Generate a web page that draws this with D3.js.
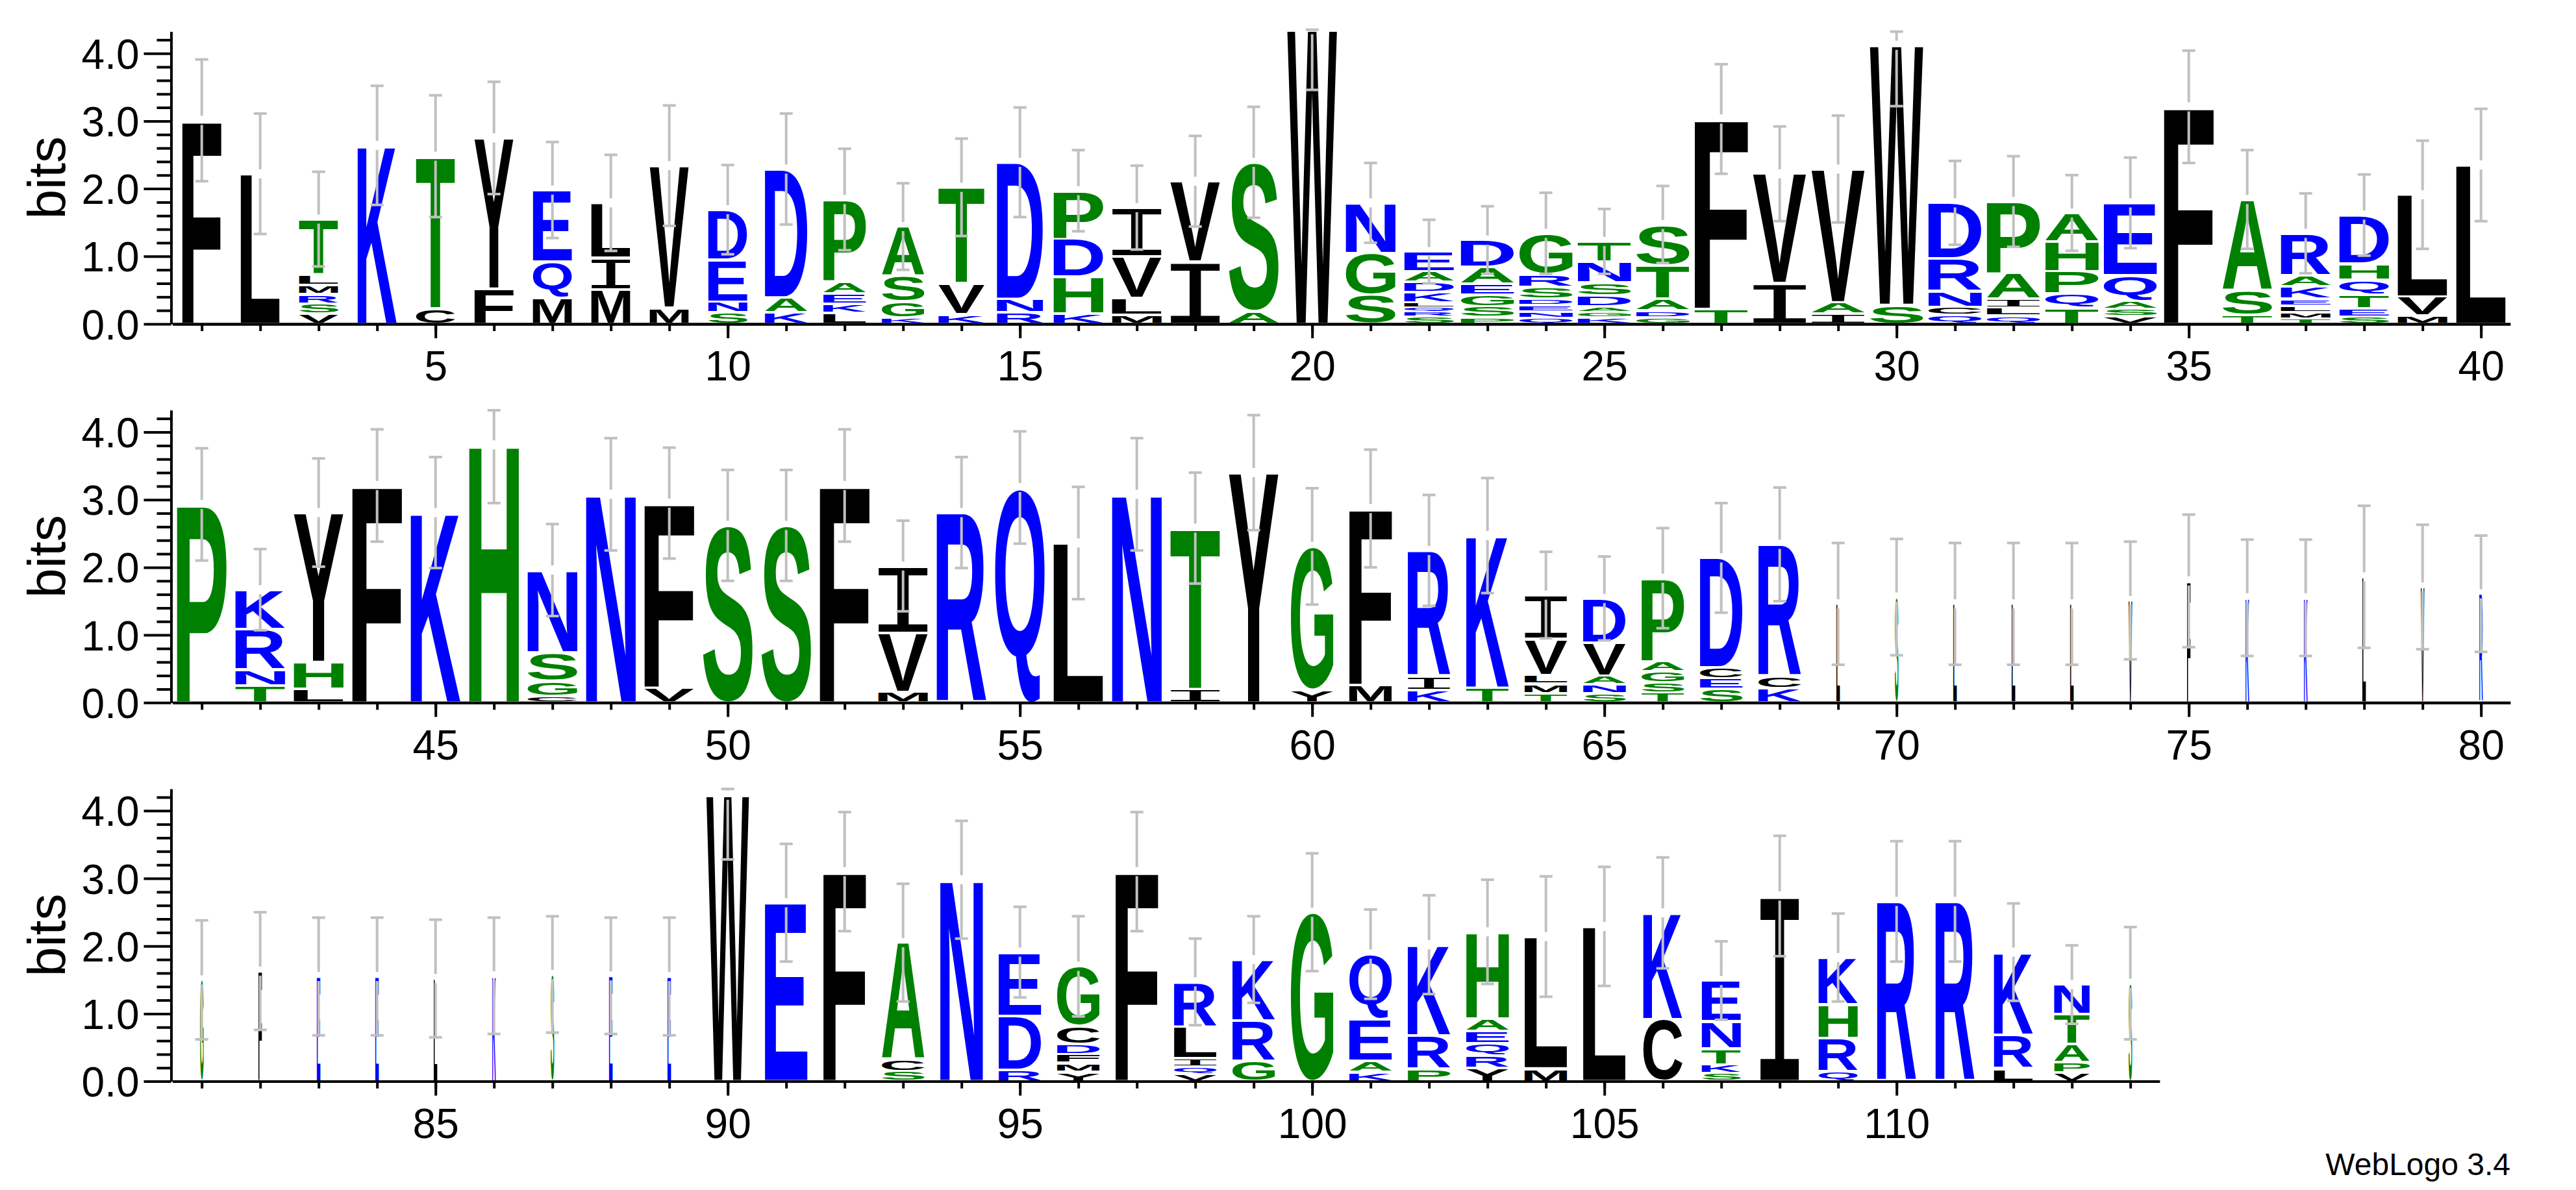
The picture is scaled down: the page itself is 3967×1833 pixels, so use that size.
<!DOCTYPE html>
<html><head><meta charset="utf-8">
<script src="https://cdn.jsdelivr.net/npm/d3@7"></script>
<style>body{margin:0;background:#fff} svg{display:block}</style>
</head><body>
<svg id="chart" width="3967" height="1833"></svg>
<script>
// ---------------- DATA ----------------
// residues of each stack, listed bottom -> top
const residues = [
 "F","L","VSRMLT","K","CT","FY","MQE","MIL","MV","SNED",
 "KAD","LKEAP","KGSA","KVT","RND","KHDP","MLVI","IV","AS","W",
 "SGN","SRQLKDAE","PSGEAD","QNEDSRG","KGADSNT","GDATS","TF","IV","IAV","SW",
 "QCNRD","QLIAP","TQPHA","VSAQE","F","TSA","TMLEKAR","SETQHD","MVL","L",
 "P","TNRK","LHY","F","K","H","CGSN","N","VF","S",
 "S","F","MVI","R","Q","L","N","IT","Y","YG",
 "MF","KIR","TK","TMLVI","SNAVD","TSGAP","SECD","KCR","L","S",
 "L","L","L","V","F","K","K","L","V","R",
 "G","F","E","E","L","K","S","E","E","W",
 "E","F","SCA","N","RDE","YMFDCG","F","VQILR","GRK","G",
 "KAEQ","PRK","YRQEAH","ML","L","CK","SKTNE","I","QRHK","R",
 "R","LRK","VPATN","S"
];
// information (bits) of each residue, same order as residues
const bits = [
 [3.01],[2.22],[0.15,0.15,0.14,0.14,0.15,0.82],[2.64],[0.23,2.25],[0.52,2.23],[0.38,0.54,1.06],[0.51,0.47,0.81],[0.24,2.10],[0.17,0.16,0.62,0.74],
 [0.17,0.22,1.90],[0.16,0.14,0.15,0.17,1.22],[0.09,0.24,0.38,0.73],[0.14,0.46,1.42],[0.17,0.20,2.02],[0.15,0.55,0.56,0.71],[0.13,0.25,0.62,0.72],[0.92,1.19],[0.19,2.20],[4.35],
 [0.43,0.62,0.74],[0.11,0.07,0.07,0.07,0.15,0.15,0.16,0.29],[0.10,0.16,0.17,0.16,0.25,0.40],[0.09,0.10,0.09,0.09,0.18,0.19,0.60],[0.10,0.08,0.08,0.16,0.19,0.31,0.30],[0.10,0.10,0.17,0.50,0.60],[0.22,2.81],[0.60,1.62],[0.15,0.17,1.97],[0.28,3.84],
 [0.13,0.12,0.24,0.48,0.82],[0.12,0.12,0.13,0.38,1.06],[0.24,0.21,0.33,0.44,0.42],[0.11,0.11,0.12,0.38,1.07],[3.21],[0.13,0.37,1.34],[0.08,0.10,0.09,0.10,0.19,0.16,0.62],[0.11,0.12,0.20,0.22,0.24,0.72],[0.12,0.28,1.51],[2.35],
 [2.93],[0.25,0.24,0.60,0.58],[0.20,0.40,2.21],[3.21],[2.81],[3.81],[0.10,0.22,0.42,1.22],[3.08],[0.22,2.73],[2.62],
 [2.62],[3.21],[0.16,0.87,0.99],[2.81],[3.18],[2.36],[3.08],[0.20,2.38],[3.40],[0.19,2.12],
 [0.26,2.61],[0.19,0.20,1.86],[0.22,2.25],[0.14,0.14,0.13,0.53,0.65],[0.14,0.13,0.13,0.49,0.65],[0.15,0.15,0.16,0.15,1.23],[0.20,0.16,0.16,1.62],[0.21,0.18,1.95],[1.46],[1.56],
 [1.46],[1.46],[1.46],[1.51],[1.80],[1.55],[1.55],[1.86],[1.71],[1.61],
 [1.50],[1.63],[1.55],[1.55],[1.52],[1.56],[1.58],[1.56],[1.55],[4.23],
 [2.64],[3.10],[0.15,0.17,1.73],[2.98],[0.17,0.80,0.94],[0.14,0.13,0.13,0.15,0.27,0.88],[3.10],[0.11,0.11,0.12,0.47,0.66],[0.30,0.60,0.90],[2.50],
 [0.14,0.16,0.62,0.96],[0.18,0.50,1.34],[0.20,0.18,0.18,0.18,0.19,1.28],[0.19,1.95],[2.29],[0.92,1.57],[0.12,0.13,0.24,0.40,0.60],[2.74],[0.15,0.49,0.50,0.69],[2.66],
 [2.66],[0.19,0.50,1.22],[0.13,0.15,0.27,0.44,0.44],[1.45]
];
// half-length of the error bar of each stack (bits)
const errorBars = [
 0.90,0.89,0.70,0.88,0.90,0.83,0.71,0.71,0.89,0.66,
 0.82,0.75,0.64,0.72,0.81,0.60,0.62,0.67,0.82,0.89,
 0.59,0.47,0.50,0.60,0.48,0.57,0.81,0.70,0.79,0.90,
 0.62,0.67,0.56,0.67,0.83,0.73,0.59,0.60,0.80,0.83,
 0.83,0.60,0.80,0.83,0.82,0.86,0.68,0.83,0.82,0.82,
 0.82,0.83,0.67,0.82,0.83,0.83,0.83,0.82,0.85,0.86,
 0.87,0.82,0.85,0.64,0.62,0.74,0.81,0.84,0.90,0.86,
 0.90,0.90,0.90,0.87,0.98,0.86,0.86,1.05,0.92,0.86,
 0.88,0.87,0.87,0.87,0.87,0.86,0.86,0.86,0.87,0.95,
 0.87,0.88,0.87,0.87,0.67,0.74,0.88,0.64,0.64,0.87,
 0.66,0.73,0.77,0.89,0.88,0.82,0.58,0.89,0.65,0.89,
 0.89,0.72,0.58,0.83
];
// number of non-gap sequences in each column (stack width is scaled by it)
const seqCounts = [
 11,11,11,11,11,11,11,11,11,11,
 12,12,12,13,13,14,14,14,14,14,
 14,14,15,15,15,15,15,15,15,15,
 15,15,15,15,14,14,14,14,14,14,
 14,14,14,14,14,14,14,14,14,14,
 14,14,14,14,14,14,14,14,14,12,
 12,12,12,12,12,12,12,12,1,1,
 1,1,1,1,1,1,1,1,1,1,
 1,1,1,1,1,1,1,1,1,12,
 12,12,12,12,12,12,12,12,12,12,
 12,12,12,12,12,11,11,11,11,11,
 11,11,10,1
];
const totalSeqs = 15;
const stacksPerLine = 40;
const yTickValues = [0, 1, 2, 3, 4];
const yMinorTicks = [0,0.2,0.4,0.6,0.8,1,1.2,1.4,1.6,1.8,2,2.2,2.4,2.6,2.8,3,3.2,3.4,3.6,3.8,4,4.2];
const hydrophilic = "RKDENQ", neutral = "SGHTAP", hydrophobic = "YVMCLFIW";
const yLabel = "bits", footer = "WebLogo 3.4";

// ---------------- LAYOUT ----------------
const BITS_MAX = Math.log2(20);
const PX_PER_BIT = 104.2;
const rowBaselines = [499, 1082.3, 1665.6];
const X0 = 265.7, STEP = 90, FULL_INK = 82;
const AXIS_X = 263.5;
const FONT = "'Liberation Sans', Arial, sans-serif";
const colorOf = ch => hydrophilic.includes(ch) ? "#0000ff" : neutral.includes(ch) ? "#008000" : "#000000";

const svg = d3.select("#chart");
svg.append("rect").attr("width", 3967).attr("height", 1833).attr("fill", "#fff");

// glyph ink metrics
const mctx = document.createElement("canvas").getContext("2d");
const fontSpec = ch => ch === "I" ? {fam: "'Liberation Mono', monospace", wt: "normal"} : {fam: FONT, wt: "bold"};
const metricCache = {};
function metrics(ch) {
  if (!metricCache[ch]) {
    const f = fontSpec(ch);
    mctx.font = `${f.wt} 200px ${f.fam}`;
    const m = mctx.measureText(ch);
    metricCache[ch] = {l: m.actualBoundingBoxLeft, r: m.actualBoundingBoxRight,
                       a: m.actualBoundingBoxAscent, d: m.actualBoundingBoxDescent};
  }
  return metricCache[ch];
}
function drawLetter(g, ch, x0, y0, w, h) {
  if (h <= 0 || w <= 0) return;
  const m = metrics(ch), f = fontSpec(ch);
  const sx = w / (m.l + m.r), sy = h / (m.a + m.d);
  g.append("text").text(ch)
    .attr("font-family", f.fam).attr("font-weight", f.wt).attr("font-size", 200)
    .attr("fill", colorOf(ch))
    .attr("transform", `translate(${x0},${y0}) scale(${sx},${sy}) translate(${m.l},${m.a})`);
}

const nRows = Math.ceil(residues.length / stacksPerLine);
for (let r = 0; r < nRows; r++) {
  const first = r * stacksPerLine + 1;
  const last = Math.min(residues.length, first + stacksPerLine - 1);
  const n = last - first + 1;
  const base = rowBaselines[r];
  const x = d3.scaleLinear().domain([first - 0.5, last + 0.5]).range([X0, X0 + n * STEP]);
  const y = d3.scaleLinear().domain([0, BITS_MAX]).range([base, base - BITS_MAX * PX_PER_BIT]);
  const g = svg.append("g");
  const gl = g.append("g"), ge = g.append("g");

  for (let pos = first; pos <= last; pos++) {
    const i = pos - 1;
    const xc = x(pos);
    const w = FULL_INK * seqCounts[i] / totalSeqs;
    let cum = 0;
    residues[i].split("").forEach((ch, k) => {
      const hb = bits[i][k];
      const yB = y(cum), yT = y(cum + hb);
      cum += hb;
      const slot = yB - yT;
      const pad = Math.min(2, slot * 0.18);
      drawLetter(gl, ch, xc - w / 2, yT + pad, w, slot - 2 * pad);
    });
    // error bar
    const e = errorBars[i];
    const top = Math.min(cum + e, Math.max(BITS_MAX, cum)), bot = Math.max(cum - e, 0);
    const gap = 7 / PX_PER_BIT;
    const eb = ge.append("g").attr("stroke", "#c0c0c0").attr("stroke-width", 4);
    if (top > cum + gap) eb.append("line").attr("x1", xc).attr("x2", xc).attr("y1", y(top)).attr("y2", y(cum + gap));
    if (cum - gap > bot) eb.append("line").attr("x1", xc).attr("x2", xc).attr("y1", y(cum - gap)).attr("y2", y(bot));
    [top, bot].forEach(v => eb.append("line").attr("x1", xc - 10).attr("x2", xc + 10).attr("y1", y(v)).attr("y2", y(v)));
  }

  // y axis
  const ya = g.append("g").attr("transform", `translate(${AXIS_X},0)`)
    .call(d3.axisLeft(y).tickValues(yMinorTicks.filter(v => !yTickValues.includes(v))).tickSize(22).tickSizeOuter(0).tickFormat(""));
  const yb = g.append("g").attr("transform", `translate(${AXIS_X},0)`)
    .call(d3.axisLeft(y).tickValues(yTickValues).tickSize(42).tickSizeOuter(0).tickPadding(7).tickFormat(d3.format(".1f")));
  // x axis
  const positions = d3.range(first, last + 1);
  const xa = g.append("g").attr("transform", `translate(0,${base})`)
    .call(d3.axisBottom(x).tickValues(positions).tickSize(11).tickSizeOuter(0).tickFormat(""));
  const xb = g.append("g").attr("transform", `translate(0,${base})`)
    .call(d3.axisBottom(x).tickValues(positions.filter(p => p % 5 === 0)).tickSize(22).tickSizeOuter(0).tickPadding(20).tickFormat(d3.format("d")));
  [ya, yb, xa, xb].forEach(a => {
    a.selectAll("path,line").attr("stroke", "#000").attr("stroke-width", 4);
    a.selectAll("text").attr("font-family", FONT).attr("font-size", 64).attr("fill", "#000");
  });
  yb.selectAll("text").attr("dy", "0.36em");
  // y label
  g.append("text").text(yLabel)
    .attr("transform", `translate(100,${y(BITS_MAX / 2)}) rotate(-90)`)
    .attr("text-anchor", "middle").attr("font-family", FONT).attr("font-size", 82).attr("fill", "#000");
}

svg.append("text").text(footer).attr("x", 3866).attr("y", 1810)
  .attr("text-anchor", "end").attr("font-family", FONT).attr("font-size", 48).attr("fill", "#000");
</script>
</body></html>
